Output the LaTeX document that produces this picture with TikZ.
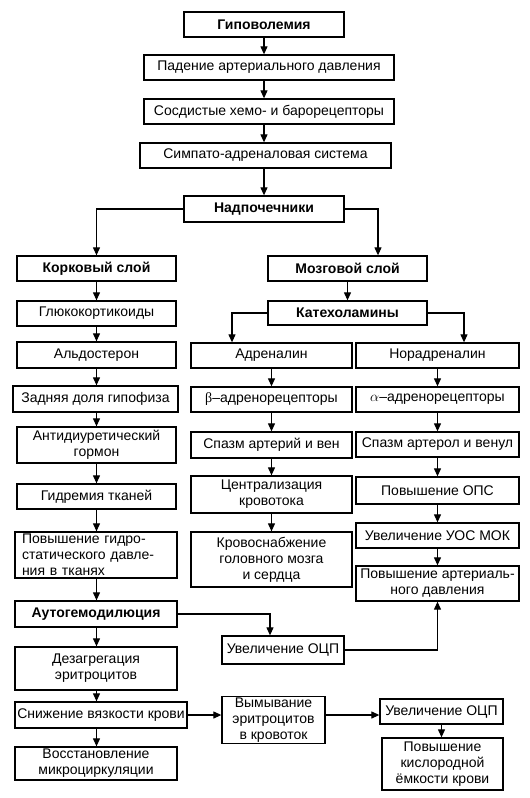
\documentclass[tikz,border=0pt]{standalone}
\usepackage{fontspec}
\setmainfont{Liberation Sans}
\newfontfamily\greekfont{Liberation Serif}
\usetikzlibrary{arrows.meta}

\begin{document}
\begin{tikzpicture}[x=1pt, y=-1pt,
	box/.style={draw, line width=1.3pt, inner sep=1pt, align=center, minimum height=25pt, font=\fontsize{14}{16}\selectfont},
	bbox/.style={box, font=\fontsize{14}{16}\selectfont\bfseries},
	arr/.style={line width=1.1pt, -{Triangle[length=8pt, width=7pt]}}]
	\useasboundingbox (0,0) rectangle (530,798);
	
	%top chain
	\node (hypo) at (264, 24.5) [bbox, minimum width=160pt]{Гиповолемия};
	\node (pad) at (269, 67.5) [box, minimum width=250pt]{Падение артериального давления};
	\node (baro) at (269, 111.5) [box, minimum width=250pt]{Сосдистые хемо- и барорецепторы};
	\node (symp) at (265.5, 155.5) [box, minimum width=251pt]{Симпато-адреналовая система};
	\node (adren) at (264, 209) [bbox, minimum width=160pt, minimum height=26pt]{Надпочечники};
	
	%cortex column
	\node (cortex) at (96.5, 268.5) [bbox, minimum width=159pt]{Корковый слой};
	\node (gluco) at (96.5, 313.5) [box, minimum width=159pt]{Глюкокортикоиды};
	\node (aldo) at (96.5, 355) [box, minimum width=159pt, minimum height=26pt]{Альдостерон};
	\node (pituit) at (95.5, 399) [box, minimum width=165pt, minimum height=26pt]{Задняя доля гипофиза};
	\node (adh) at (96.5, 445) [box, minimum width=159pt, minimum height=36pt]{Антидиуретический\\гормон};
	\node (hydr) at (96.5, 496.5) [box, minimum width=159pt]{Гидремия тканей};
	\node (hydrost) at (96, 555) [box, align=left, text width=148pt, minimum width=162pt, minimum height=46pt]{Повышение гидро-\\статического давле-\\ния в тканях};
	\node (autohd) at (96, 614) [bbox, minimum width=162pt, minimum height=26pt]{Аутогемодилюция};
	\node (disagg) at (96, 668.5) [box, minimum width=162pt, minimum height=43pt]{Дезагрегация\\эритроцитов};
	\node (visc) at (101, 715) [box, minimum width=172pt, minimum height=26pt]{Снижение вязкости крови};
	\node (micro) at (96, 763.5) [box, minimum width=162pt, minimum height=33pt]{Восстановление\\микроциркуляции};
	
	%medulla columns
	\node (medulla) at (347.5, 268.5) [bbox, minimum width=159pt]{Мозговой слой};
	\node (catech) at (347.5, 313) [bbox, minimum width=159pt, minimum height=24pt]{Катехоламины};
	\node (adrenal) at (271.5, 355.5) [box, minimum width=161pt]{Адреналин};
	\node (beta) at (271.5, 399.5) [box, minimum width=161pt]{{\greekfont β}--адренорецепторы};
	\node (spasmA) at (271.5, 445) [box, minimum width=161pt, minimum height=26pt]{Спазм артерий и вен};
	\node (central) at (271.5, 494.5) [box, minimum width=161pt, minimum height=37pt]{Централизация\\кровотока};
	\node (supply) at (271.5, 559.5) [box, minimum width=161pt, minimum height=55pt]{Кровоснабжение\\головного мозга\\и сердца};
	
	\node (noradr) at (437.5, 355.5) [box, minimum width=163pt]{Норадреналин};
	\node (alpha) at (437.5, 399.5) [box, minimum width=163pt]{$\alpha$--адренорецепторы};
	\node (spasmB) at (437.5, 444.5) [box, minimum width=163pt]{Спазм артерол и венул};
	\node (ops) at (437.5, 490.5) [box, minimum width=163pt, minimum height=27pt]{Повышение ОПС};
	\node (sv) at (437.5, 535.5) [box, minimum width=163pt]{Увеличение УОС МОК};
	\node (ap) at (437.5, 583.5) [box, minimum width=163pt, minimum height=35pt]{Повышение артериаль-\\ного давления};
	
	%bottom
	\node (bcvA) at (283, 650) [box, minimum width=122pt, minimum height=28pt]{Увеличение ОЦП};
	\node (washout) at (273.5, 720) [box, minimum width=103pt, minimum height=46pt]{Вымывание\\эритроцитов\\в кровоток};
	\node (bcvB) at (441.5, 711.5) [box, minimum width=123pt]{Увеличение ОЦП};
	\node (oxy) at (442.5, 764) [box, minimum width=121pt, minimum height=52pt]{Повышение\\кислородной\\ёмкости крови};
	
	%arrows
	\foreach \a/\b in {hypo/pad, pad/baro, baro/symp, symp/adren}
		\draw[arr] (hypo.south |- \a.south) -- (hypo.south |- \b.north);
	\draw[arr] (adren.west) -| (cortex.north);
	\draw[arr] (adren.east) -| ([xshift=30.5pt]medulla.north);
	
	\foreach \a/\b in {cortex/gluco, gluco/aldo, aldo/pituit, pituit/adh, adh/hydr, hydr/hydrost, hydrost/autohd, autohd/disagg, disagg/visc, visc/micro}
		\draw[arr] (cortex.south |- \a.south) -- (cortex.south |- \b.north);
	
	\draw[arr] (medulla) -- (catech);
	\draw[arr] (catech.west) -| ([xshift=-39.5pt]adrenal.north);
	\draw[arr] (catech.east) -| ([xshift=26.5pt]noradr.north);
	\foreach \a/\b in {adrenal/beta, beta/spasmA, spasmA/central, central/supply, noradr/alpha, alpha/spasmB, spasmB/ops, ops/sv, sv/ap}
		\draw[arr] (\a) -- (\b);
	
	\draw[arr] (autohd.east) -| ([xshift=-13pt]bcvA.north);
	\draw[arr] (bcvA.east) -| (ap.south);
	\draw[arr] (visc.east) -- (visc.east -| washout.west);
	\draw[arr] (visc.east -| washout.east) -- (visc.east -| bcvB.west);
	\draw[arr] (bcvB.south) -- (bcvB.south |- oxy.north);
\end{tikzpicture}
\end{document}
